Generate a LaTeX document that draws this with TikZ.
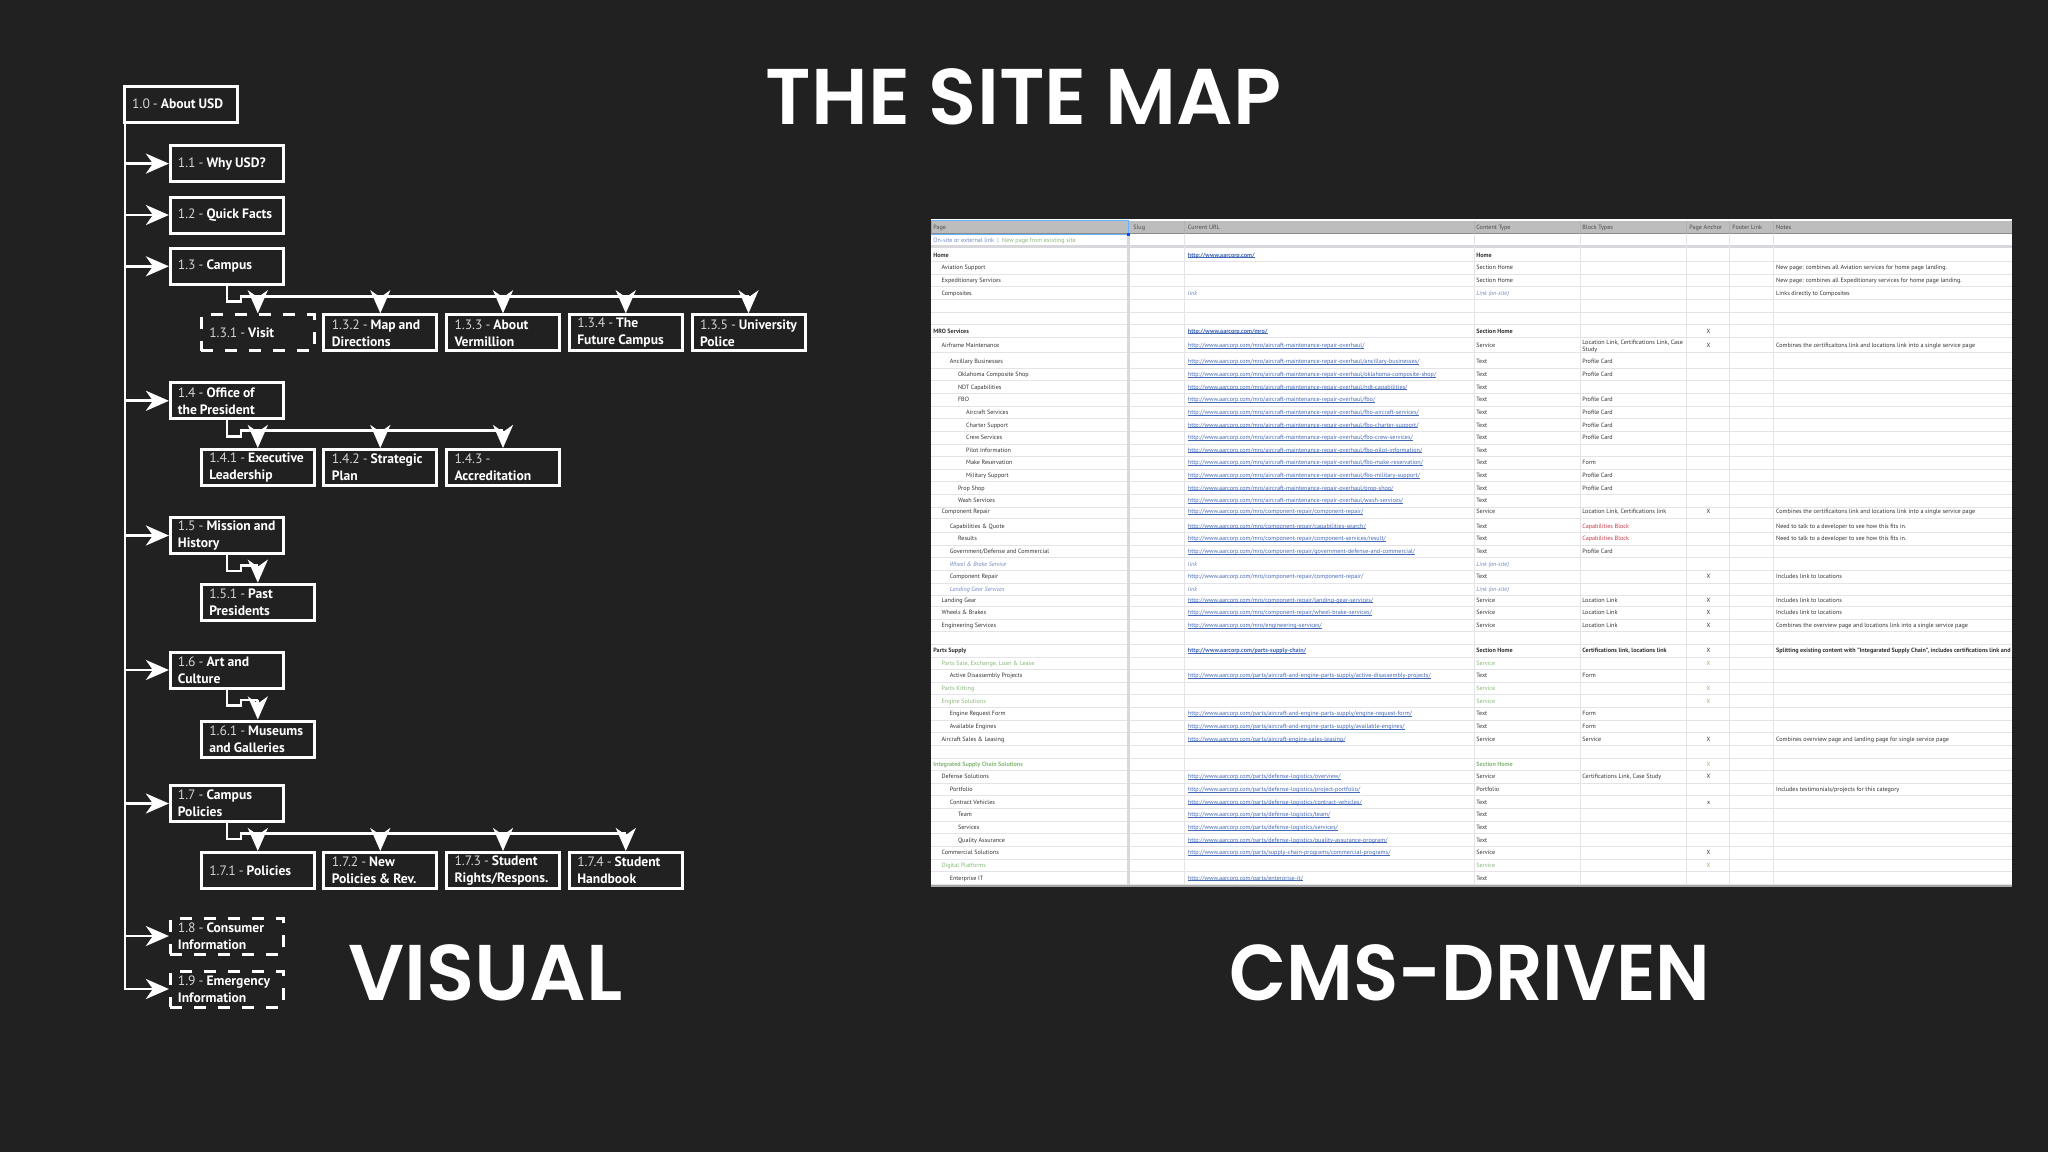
\documentclass[tikz,border=0pt]{standalone}
\usepackage{graphicx}
\usepackage{fontspec}
\setmainfont{PT Sans}
\newfontfamily\titlefont{Poppins SemiBold}
\usetikzlibrary{arrows.meta}

\definecolor{bgdark}{HTML}{212121}
\definecolor{numgray}{HTML}{D2D2D2}
\definecolor{headgray}{HTML}{BDBDBD}
\definecolor{gridgray}{HTML}{E3E3E8}
\definecolor{sheetink}{HTML}{333333}
\definecolor{sheetblue}{HTML}{4468B8}
\definecolor{softblue}{HTML}{7088C0}
\definecolor{sheetgreen}{HTML}{86B878}
\definecolor{sheetred}{HTML}{C23A48}

\tikzset{
	pagebox/.style={draw=white, line width=1.5pt, fill=bgdark, text=white, align=left, inner xsep=3.75pt, inner ysep=0pt,
		text width=49pt, minimum width=56.5pt, minimum height=18pt, font=\fontsize{6.8}{8.5}\selectfont,
		execute at begin node={\spaceskip=.22em\hyphenpenalty=10000\relax}},
	subbox/.style={pagebox, text width=48.5pt},
	gonebox/.style={dash pattern=on 6pt off 6pt},
	treeline/.style={draw=white, line width=1.4pt},
	treearrow/.style={treeline, -{Stealth[length=11.5pt,width=10pt,inset=3.5pt]}},
	bigtitle/.style={anchor=base, text=white, font=\titlefont\fontsize{39.5}{40}\selectfont},
	cell/.style={anchor=west, inner sep=0pt, text=sheetink, align=left, text height=2.6pt, text depth=0.4pt, font=\fontsize{3.07}{3.4}\selectfont},
	xcell/.style={cell, anchor=center},
	headcell/.style={cell, text=black!70},
	gridline/.style={draw=gridgray, line width=0.4pt}
}

\newcommand{\num}[1]{{\color{numgray}#1}}
\newsavebox{\lnkbox}
\newcommand{\lnk}[1]{{\color{sheetblue}\sbox{\lnkbox}{#1}\rlap{\rule[-0.32pt]{\wd\lnkbox}{0.2pt}}\usebox{\lnkbox}}}
\newcommand{\grn}[1]{{\color{sheetgreen}#1}}
\newcommand{\iblu}[1]{{\color{softblue}\itshape #1}}
\newcommand{\rred}[1]{{\color{sheetred}#1}}
\newcount\rowno
\newcommand{\sheetcell}[5][cell]{\def\celltext{#5}\ifx\celltext\empty\else\node[#1] (#2\the\rowno) at (#3,#4) {#5};\fi}
% y, level, page, url, type, blocks, anchor, notes
\newcommand{\sheetrow}[8]{%
	\global\advance\rowno by 1
	\sheetcell{pg}{933+8.2*#2}{#1}{#3}
	\sheetcell{ur}{1187.5}{#1}{#4}
	\sheetcell{ty}{1476}{#1}{#5}
	\sheetcell{bl}{1582}{#1}{#6}
	\sheetcell[xcell]{an}{1708.6}{#1}{#7}
	\sheetcell{no}{1775.7}{#1}{#8}
	\draw[gridline] (931,#1+6.3) -- (2012,#1+6.3);
}

\begin{document}
\begin{tikzpicture}[x=0.5pt,y=-0.5pt]
	\useasboundingbox (0,0) rectangle (2048,1152);
	\fill[bgdark] (0,0) rectangle (2048,1152);

	\node[bigtitle] (sitemap) at (1023.5,124) {THE SITE MAP};
	\node[bigtitle] (visual) at (485.5,1000) {VISUAL};
	\node[bigtitle] (cms) at (1470,1000) {\scalebox{.94}[1]{CMS-DRIVEN}};

	% the tree
	\node[pagebox, subbox] (n10) at (180.7,104.2) {\num{1.0 -} \textbf{About USD}};
	\node[pagebox] (n11) at (226.9,163.6) {\num{1.1 -} \textbf{Why USD?}};
	\node[pagebox] (n12) at (226.9,215) {\num{1.2 -} \textbf{Quick Facts}};
	\node[pagebox] (n13) at (226.9,266.3) {\num{1.3 -} \textbf{Campus}};
	\node[pagebox] (n14) at (226.9,400.8) {\num{1.4 -} \textbf{Office of}\\\textbf{the President}};
	\node[pagebox] (n15) at (226.9,535.5) {\num{1.5 -} \textbf{Mission and}\\\textbf{History}};
	\node[pagebox] (n16) at (226.9,670) {\num{1.6 -} \textbf{Art and}\\\textbf{Culture}};
	\node[pagebox] (n17) at (226.9,803.5) {\num{1.7 -} \textbf{Campus}\\\textbf{Policies}};
	\node[pagebox, gonebox] (n18) at (226.9,936) {\num{1.8 -} \textbf{Consumer}\\\textbf{Information}};
	\node[pagebox, gonebox] (n19) at (226.9,989) {\num{1.9 -} \textbf{Emergency}\\\textbf{Information}};

	\node[pagebox, subbox, gonebox] (n131) at (257.8,332.8) {\num{1.3.1 -} \textbf{Visit}};
	\node[pagebox, subbox] (n132) at (380.3,332.8) {\num{1.3.2 -} \textbf{Map and}\\\textbf{Directions}};
	\node[pagebox, subbox] (n133) at (503,332.8) {\num{1.3.3 -} \textbf{About}\\\textbf{Vermillion}};
	\node[pagebox, subbox] (n134) at (625.8,332.8) {\num{1.3.4 -} \textbf{The}\\\textbf{Future Campus}};
	\node[pagebox, subbox] (n135) at (748.5,332.8) {\mbox{\num{1.3.5 -} \textbf{University}}\\\textbf{Police}};

	\node[pagebox, subbox] (n141) at (257.8,467.5) {\num{1.4.1 -} \textbf{Executive}\\\textbf{Leadership}};
	\node[pagebox, subbox] (n142) at (380.3,467.5) {\num{1.4.2 -} \textbf{Strategic}\\\textbf{Plan}};
	\node[pagebox, subbox] (n143) at (503,467.5) {\num{1.4.3 -}\\\textbf{Accreditation}};

	\node[pagebox, subbox] (n151) at (257.8,602.2) {\num{1.5.1 -} \textbf{Past}\\\textbf{Presidents}};
	\node[pagebox, subbox] (n161) at (257.8,739) {\num{1.6.1 -} \textbf{Museums}\\\textbf{and Galleries}};

	\node[pagebox, subbox] (n171) at (257.8,870.5) {\num{1.7.1 -} \textbf{Policies}};
	\node[pagebox, subbox] (n172) at (380.3,870.5) {\num{1.7.2 -} \textbf{New}\\\textbf{Policies \& Rev.}};
	\node[pagebox, subbox] (n173) at (503,870.5) {\num{1.7.3 -} \textbf{Student}\\\textbf{Rights/Respons.}};
	\node[pagebox, subbox] (n174) at (625.8,870.5) {\num{1.7.4 -} \textbf{Student}\\\textbf{Handbook}};

	\coordinate (trunk) at (125,122);
	\foreach \k in {11,12,13,14,15,16,17,18,19}
		\draw[treearrow] (trunk) |- (n\k.west);

	\foreach \p/\last in {13/135,14/143,15/151,16/161,17/174}
		\draw[treeline] (n\p.south) -- ++(0,16) -- ++(14,0) -- ++(0,-5.5) coordinate (bus\p) -- (bus\p -| n\last.north);

	\foreach \p/\c in {13/131,13/132,13/133,13/134,13/135,14/141,14/142,14/143,15/151,16/161,17/171,17/172,17/173,17/174}
		\draw[treearrow] (bus\p -| n\c.north) -- (n\c.north);

	% the sheet
	\fill[white] (931,219) rectangle (2012,887);
	\fill[headgray] (931,220.5) rectangle (2012,233.5);
	\draw[black!45, line width=0.5pt] (931,233.5) -- (2012,233.5);
	\draw[gridgray!95!black, line width=1.5pt] (931,246.7) -- (2012,246.7);

	\begin{scope}
		\clip (931,219) rectangle (2012,887);
		\node[headcell] (hpage) at (933,227.3) {Page};
		\node[headcell] (hslug) at (1133,227.3) {Slug};
		\node[headcell] (hurl) at (1187.5,227.3) {Current URL};
		\node[headcell] (htype) at (1476,227.3) {Content Type};
		\node[headcell] (hblock) at (1582,227.3) {Block Types};
		\node[headcell] (hanchor) at (1689,227.3) {Page Anchor};
		\node[headcell] (hfoot) at (1732,227.3) {Footer Link};
		\node[headcell] (hnotes) at (1775.7,227.3) {Notes};
		\node[cell] (legend) at (933,240.3) {\iblu{\upshape On-site or external link}\ \ {\color{softblue}|}\ \ \grn{New page from existing site}};

		\sheetrow{255}{0}{\textbf{Home}}{\lnk{\textbf{http://www.aarcorp.com/}}}{\textbf{Home}}{}{}{}
		\sheetrow{267.7}{1}{Aviation Support}{}{Section Home}{}{}{New page: combines all Aviation services for home page landing.}
		\sheetrow{280.3}{1}{Expeditionary Services}{}{Section Home}{}{}{New page: combines all Expeditionary services for home page landing.}
		\sheetrow{293}{1}{Composites}{\iblu{link}}{\iblu{Link (on-site)}}{}{}{Links directly to Composites}
		\sheetrow{305.7}{0}{}{}{}{}{}{}
		\sheetrow{318.3}{0}{}{}{}{}{}{}
		\sheetrow{331}{0}{\textbf{MRO Services}}{\lnk{\textbf{http://www.aarcorp.com/mro/}}}{\textbf{Section Home}}{}{X}{}
		\sheetrow{345.7}{1}{Airframe Maintenance}{\lnk{http://www.aarcorp.com/mro/aircraft-maintenance-repair-overhaul/}}{Service}{}{X}{Combines the certificaitons link and locations link into a single service page}
		\node[cell] (airblock) at (1582,342.3) {Location Link, Certifications Link, Case};
		\node[cell] (airstudy) at (1582,349.7) {Study};
		\sheetrow{361.7}{2}{Ancillary Businesses}{\lnk{http://www.aarcorp.com/mro/aircraft-maintenance-repair-overhaul/ancillary-businesses/}}{Text}{Profile Card}{}{}
		\sheetrow{374.3}{3}{Oklahoma Composite Shop}{\lnk{http://www.aarcorp.com/mro/aircraft-maintenance-repair-overhaul/oklahoma-composite-shop/}}{Text}{Profile Card}{}{}
		\sheetrow{387}{3}{NDT Capabilities}{\lnk{http://www.aarcorp.com/mro/aircraft-maintenance-repair-overhaul/ndt-capabilities/}}{Text}{}{}{}
		\sheetrow{399.7}{3}{FBO}{\lnk{http://www.aarcorp.com/mro/aircraft-maintenance-repair-overhaul/fbo/}}{Text}{Profile Card}{}{}
		\sheetrow{412.3}{4}{Aircraft Services}{\lnk{http://www.aarcorp.com/mro/aircraft-maintenance-repair-overhaul/fbo-aircraft-services/}}{Text}{Profile Card}{}{}
		\sheetrow{425}{4}{Charter Support}{\lnk{http://www.aarcorp.com/mro/aircraft-maintenance-repair-overhaul/fbo-charter-support/}}{Text}{Profile Card}{}{}
		\sheetrow{437.7}{4}{Crew Services}{\lnk{http://www.aarcorp.com/mro/aircraft-maintenance-repair-overhaul/fbo-crew-services/}}{Text}{Profile Card}{}{}
		\sheetrow{450}{4}{Pilot Information}{\lnk{http://www.aarcorp.com/mro/aircraft-maintenance-repair-overhaul/fbo-pilot-information/}}{Text}{}{}{}
		\sheetrow{462.7}{4}{Make Reservation}{\lnk{http://www.aarcorp.com/mro/aircraft-maintenance-repair-overhaul/fbo-make-reservation/}}{Text}{Form}{}{}
		\sheetrow{475.3}{4}{Military Support}{\lnk{http://www.aarcorp.com/mro/aircraft-maintenance-repair-overhaul/fbo-military-support/}}{Text}{Profile Card}{}{}
		\sheetrow{488}{3}{Prop Shop}{\lnk{http://www.aarcorp.com/mro/aircraft-maintenance-repair-overhaul/prop-shop/}}{Text}{Profile Card}{}{}
		\sheetrow{500.7}{3}{Wash Services}{\lnk{http://www.aarcorp.com/mro/aircraft-maintenance-repair-overhaul/wash-services/}}{Text}{}{}{}
		\sheetrow{511.7}{1}{Component Repair}{\lnk{http://www.aarcorp.com/mro/component-repair/component-repair/}}{Service}{Location Link, Certifications link}{X}{Combines the certificaitons link and locations link into a single service page}
		\sheetrow{526}{2}{Capabilities \& Quote}{\lnk{http://www.aarcorp.com/mro/component-repair/capabilities-search/}}{Text}{\rred{Capabilities Block}}{}{Need to talk to a developer to see how this fits in.}
		\sheetrow{538.7}{3}{Results}{\lnk{http://www.aarcorp.com/mro/component-repair/component-services/result/}}{Text}{\rred{Capabilities Block}}{}{Need to talk to a developer to see how this fits in.}
		\sheetrow{551.3}{2}{Government/Defense and Commercial}{\lnk{http://www.aarcorp.com/mro/component-repair/government-defense-and-commercial/}}{Text}{Profile Card}{}{}
		\sheetrow{564}{2}{\iblu{Wheel \& Brake Service}}{\iblu{link}}{\iblu{Link (on-site)}}{}{}{}
		\sheetrow{576.7}{2}{Component Repair}{{\color{sheetblue}http://www.aarcorp.com/mro/component-repair/component-repair/}}{Text}{}{X}{Includes link to locations}
		\sheetrow{589.3}{2}{\iblu{Landing Gear Services}}{\iblu{link}}{\iblu{Link (on-site)}}{}{}{}
		\sheetrow{600}{1}{Landing Gear}{\lnk{http://www.aarcorp.com/mro/component-repair/landing-gear-services/}}{Service}{Location Link}{X}{Includes link to locations}
		\sheetrow{612.7}{1}{Wheels \& Brakes}{\lnk{http://www.aarcorp.com/mro/component-repair/wheel-brake-services/}}{Service}{Location Link}{X}{Includes link to locations}
		\sheetrow{625.3}{1}{Engineering Services}{\lnk{http://www.aarcorp.com/mro/engineering-services/}}{Service}{Location Link}{X}{Combines the overview page and locations link into a single service page}
		\sheetrow{638}{0}{}{}{}{}{}{}
		\sheetrow{650.7}{0}{\textbf{Parts Supply}}{\lnk{\textbf{http://www.aarcorp.com/parts-supply-chain/}}}{\textbf{Section Home}}{\textbf{Certifications link, locations link}}{X}{\textbf{Splitting existing content with "Integarated Supply Chain", includes certifications link and locations link}}
		\sheetrow{663.3}{1}{\grn{Parts Sale, Exchange, Loan \& Lease}}{}{\grn{Service}}{}{\grn{X}}{}
		\sheetrow{675.7}{2}{Active Disassembly Projects}{\lnk{http://www.aarcorp.com/parts/aircraft-and-engine-parts-supply/active-disassembly-projects/}}{Text}{Form}{}{}
		\sheetrow{688.3}{1}{\grn{Parts Kitting}}{}{\grn{Service}}{}{\grn{X}}{}
		\sheetrow{701}{1}{\grn{Engine Solutions}}{}{\grn{Service}}{}{\grn{X}}{}
		\sheetrow{713.7}{2}{Engine Request Form}{\lnk{http://www.aarcorp.com/parts/aircraft-and-engine-parts-supply/engine-request-form/}}{Text}{Form}{}{}
		\sheetrow{726.3}{2}{Available Engines}{\lnk{http://www.aarcorp.com/parts/aircraft-and-engine-parts-supply/available-engines/}}{Text}{Form}{}{}
		\sheetrow{739}{1}{Aircraft Sales \& Leasing}{\lnk{http://www.aarcorp.com/parts/aircraft-engine-sales-leasing/}}{Service}{Service}{X}{Combines overview page and landing page for single service page}
		\sheetrow{751.7}{0}{}{}{}{}{}{}
		\sheetrow{764}{0}{\grn{\textbf{Integrated Supply Chain Solutions}}}{}{\grn{\textbf{Section Home}}}{}{\grn{X}}{}
		\sheetrow{776.7}{1}{Defense Solutions}{\lnk{http://www.aarcorp.com/parts/defense-logistics/overview/}}{Service}{Certifications Link, Case Study}{X}{}
		\sheetrow{789.3}{2}{Portfolio}{\lnk{http://www.aarcorp.com/parts/defense-logistics/project-portfolio/}}{Portfolio}{}{}{Includes testimonials/projects for this category}
		\sheetrow{802}{2}{Contract Vehicles}{\lnk{http://www.aarcorp.com/parts/defense-logistics/contract-vehicles/}}{Text}{}{x}{}
		\sheetrow{814.7}{3}{Team}{\lnk{http://www.aarcorp.com/parts/defense-logistics/team/}}{Text}{}{}{}
		\sheetrow{827.3}{3}{Services}{\lnk{http://www.aarcorp.com/parts/defense-logistics/services/}}{Text}{}{}{}
		\sheetrow{840}{3}{Quality Assurance}{\lnk{http://www.aarcorp.com/parts/defense-logistics/quality-assurance-program/}}{Text}{}{}{}
		\sheetrow{852.7}{1}{Commercial Solutions}{\lnk{http://www.aarcorp.com/parts/supply-chain-programs/commercial-programs/}}{Service}{}{X}{}
		\sheetrow{865.3}{1}{\grn{Digital Platforms}}{}{\grn{Service}}{}{\grn{X}}{}
		\sheetrow{878}{2}{Enterprise IT}{\lnk{http://www.aarcorp.com/parts/enterprise-it/}}{Text}{}{}{}
	\end{scope}

	% column rules
	\foreach \x in {1184.6,1474,1580,1686.4,1729.3,1773.6}
		\draw[gridline] (\x,233.5) -- (\x,885);
	\foreach \x in {1184.6,1474,1580,1686.4,1729.3,1773.6}
		\draw[black!30, line width=0.3pt] (\x,220.5) -- (\x,233.5);
	\draw[gridgray!95!black, line width=1.5pt] (1128.6,233.5) -- (1128.6,885);
	\draw[blue!50!cyan!60!white, line width=0.5pt] (931,220.5) rectangle (1128.6,234);
	\fill[blue!70!cyan] (1126.8,232.5) rectangle (1130.4,236);
	\draw[black!35, line width=0.7pt] (931,886) -- (2012,886);
\end{tikzpicture}
\end{document}
